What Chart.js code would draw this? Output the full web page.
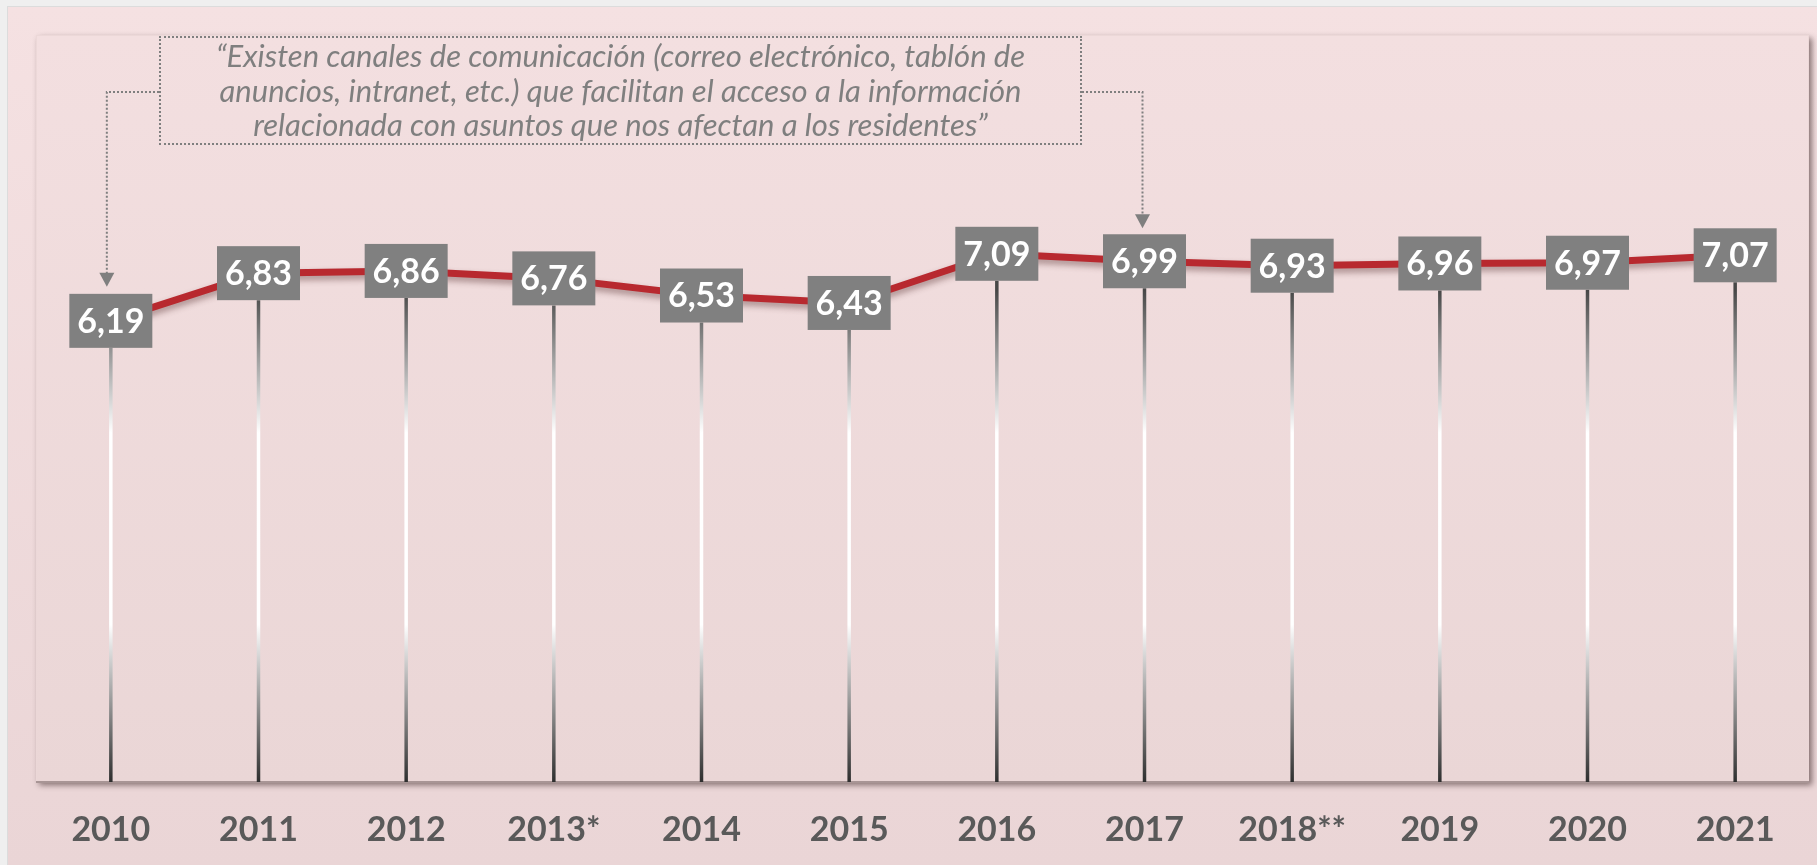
<!DOCTYPE html>
<html>
<head>
<meta charset="utf-8">
<script src="https://cdn.jsdelivr.net/npm/chart.js@4.4.1/dist/chart.umd.min.js"></script>
<style>
  html, body { margin: 0; padding: 0; background: #efefef; }
  #wrap { position: relative; width: 1817px; height: 865px; overflow: hidden; }
  #c { position: absolute; left: 0; top: 0; }
  #note {
    position: absolute; left: 159px; top: 36px; width: 923px; height: 109px;
    box-sizing: border-box; border: 2px dotted #7f7f7f;
    font-family: Lato, "Open Sans", sans-serif; font-style: italic; font-size: 31px;
    line-height: 34.5px; color: #7f7f7f; text-align: center; padding-top: 0px;
    white-space: nowrap;
  }
</style>
</head>
<body>
<div id="wrap">
  <canvas id="c" width="1817" height="865"></canvas>
  <div id="note">“Existen canales de comunicación (correo electrónico, tablón de<br>anuncios, intranet, etc.) que facilitan el acceso a la información<br>relacionada con asuntos que nos afectan a los residentes”</div>
</div>
<script>
const years = ["2010", "2011", "2012", "2013*", "2014", "2015", "2016", "2017", "2018**", "2019", "2020", "2021"];
const scores = [6.19, 6.83, 6.86, 6.76, 6.53, 6.43, 7.09, 6.99, 6.93, 6.96, 6.97, 7.07];
const yRange = [0, 10];
const arrowTargets = [0, 7];

const BOX_W = 83, BOX_H = 54;

const backgroundPlugin = {
  id: 'bg',
  beforeDraw(chart) {
    const ctx = chart.ctx, a = chart.chartArea;
    ctx.save();
    ctx.fillStyle = '#efefef';
    ctx.fillRect(0, 0, chart.width, chart.height);
    let g = ctx.createLinearGradient(0, 7, 0, chart.height);
    g.addColorStop(0, '#f5e1e2');
    g.addColorStop(1, '#ead5d6');
    ctx.fillStyle = '#dcdcdc';
    ctx.fillRect(7, 6, chart.width, chart.height);
    ctx.fillStyle = g;
    ctx.fillRect(8, 7, chart.width, chart.height);
    ctx.shadowColor = 'rgba(60,40,40,0.6)';
    ctx.shadowBlur = 6;
    ctx.shadowOffsetX = 3;
    ctx.shadowOffsetY = 3;
    let g2 = ctx.createLinearGradient(0, a.top, 0, a.bottom);
    g2.addColorStop(0, '#f3dfe0');
    g2.addColorStop(1, '#ead6d6');
    ctx.fillStyle = g2;
    ctx.fillRect(a.left - 1, a.top - 2, a.right - a.left + 1, a.bottom - a.top + 2);
    ctx.restore();
    ctx.save();
    ctx.strokeStyle = 'rgba(235,215,215,0.9)';
    ctx.lineWidth = 1;
    ctx.strokeRect(a.left - 0.5, a.top - 1.5, a.right - a.left, a.bottom - a.top + 1);
    ctx.strokeStyle = '#a89595';
    ctx.lineWidth = 2;
    ctx.beginPath();
    ctx.moveTo(a.left - 1, a.bottom);
    ctx.lineTo(a.right, a.bottom);
    ctx.stroke();
    ctx.restore();
  }
};

const dropLinePlugin = {
  id: 'drop',
  beforeDatasetsDraw(chart) {
    const ctx = chart.ctx, a = chart.chartArea;
    const meta = chart.getDatasetMeta(0);
    const g = ctx.createLinearGradient(0, 290, 0, a.bottom);
    g.addColorStop(0, '#474747');
    g.addColorStop(0.29, '#ffffff');
    g.addColorStop(0.68, '#ffffff');
    g.addColorStop(1, '#2e2e2e');
    ctx.save();
    ctx.strokeStyle = g;
    ctx.lineWidth = 3.5;
    meta.data.forEach(pt => {
      ctx.beginPath();
      ctx.moveTo(pt.x, pt.y + BOX_H / 2);
      ctx.lineTo(pt.x, a.bottom);
      ctx.stroke();
    });
    ctx.restore();
  },
  beforeDatasetDraw(chart) {
    const ctx = chart.ctx;
    ctx.save();
    ctx.shadowColor = 'rgba(80,40,40,0.45)';
    ctx.shadowBlur = 6;
    ctx.shadowOffsetY = 4;
  },
  afterDatasetDraw(chart) {
    chart.ctx.restore();
  }
};

const labelPlugin = {
  id: 'labels',
  afterDatasetsDraw(chart) {
    const ctx = chart.ctx;
    const meta = chart.getDatasetMeta(0);
    ctx.save();
    meta.data.forEach((pt, i) => {
      ctx.fillStyle = '#808080';
      ctx.fillRect(pt.x - BOX_W / 2, pt.y - BOX_H / 2, BOX_W, BOX_H);
      ctx.fillStyle = '#ffffff';
      ctx.font = 'bold 34px Lato, "Open Sans", sans-serif';
      ctx.textAlign = 'center';
      ctx.textBaseline = 'middle';
      ctx.fillText(scores[i].toFixed(2).replace('.', ','), pt.x, pt.y + 1);
    });
    ctx.restore();
  }
};

const arrowPlugin = {
  id: 'arrows',
  afterDraw(chart) {
    const ctx = chart.ctx;
    const meta = chart.getDatasetMeta(0);
    const noteLeft = 159, noteRight = 1082, noteMidY = 92;
    const p0 = meta.data[arrowTargets[0]], p1 = meta.data[arrowTargets[1]];
    const x0 = p0.x - 4, x1 = p1.x - 2;
    const tip0 = p0.y - BOX_H / 2 - 7, tip1 = p1.y - BOX_H / 2 - 6;
    ctx.save();
    ctx.strokeStyle = '#7f7f7f';
    ctx.fillStyle = '#7f7f7f';
    ctx.lineWidth = 2;
    ctx.setLineDash([2, 2]);
    ctx.beginPath();
    ctx.moveTo(noteLeft, noteMidY);
    ctx.lineTo(x0, noteMidY);
    ctx.lineTo(x0, tip0 - 12);
    ctx.moveTo(noteRight, noteMidY);
    ctx.lineTo(x1, noteMidY);
    ctx.lineTo(x1, tip1 - 12);
    ctx.stroke();
    ctx.setLineDash([]);
    [[x0, tip0], [x1, tip1]].forEach(([x, y]) => {
      ctx.beginPath();
      ctx.moveTo(x, y);
      ctx.lineTo(x - 7.5, y - 14);
      ctx.lineTo(x + 7.5, y - 14);
      ctx.closePath();
      ctx.fill();
    });
    ctx.restore();
  }
};

new Chart(document.getElementById('c'), {
  type: 'line',
  data: {
    labels: years,
    datasets: [{
      data: scores,
      borderColor: '#b8292f',
      borderWidth: 7,
      pointRadius: 0,
      tension: 0,
      fill: false
    }]
  },
  options: {
    responsive: false,
    animation: false,
    devicePixelRatio: 1,
    layout: { padding: { left: 37, right: 8, top: 37, bottom: 0 } },
    plugins: { legend: { display: false }, tooltip: { enabled: false } },
    scales: {
      x: {
        type: 'category',
        offset: true,
        grid: { display: false, drawTicks: false },
        border: { display: false },
        ticks: {
          color: '#595959',
          font: { family: 'Lato, "Open Sans", sans-serif', weight: 'bold', size: 34, lineHeight: 1 },
          padding: 31,
          maxRotation: 0,
          autoSkip: false
        },
        afterFit(scale) { scale.height = 83; }
      },
      y: { display: false, min: yRange[0], max: yRange[1] }
    }
  },
  plugins: [backgroundPlugin, dropLinePlugin, labelPlugin, arrowPlugin]
});
</script>
</body>
</html>
